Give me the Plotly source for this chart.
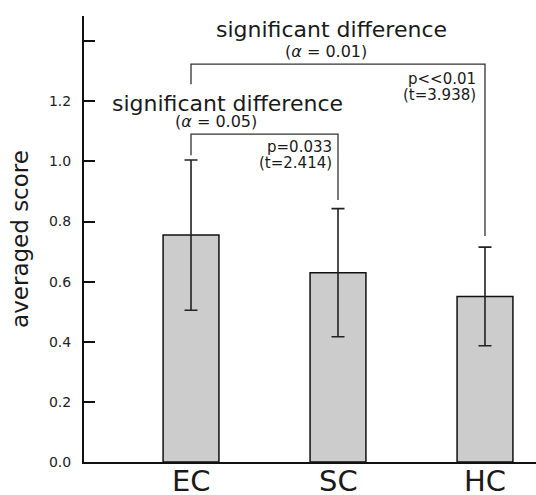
import plotly.graph_objects as go

categories = ["EC", "SC", "HC"]
means = [0.755, 0.630, 0.551]
errors = [0.250, 0.213, 0.164]
y_ticks = [0.0, 0.2, 0.4, 0.6, 0.8, 1.0, 1.2, 1.4]
y_tick_labels = ["0.0", "0.2", "0.4", "0.6", "0.8", "1.0", "1.2", ""]

# brackets: (left bar, right bar, top level, left leg bottom, right leg bottom)
brackets = [
    (0, 1, 1.091, 1.021, 0.872),
    (0, 2, 1.324, 1.257, 0.752),
]
bracket_titles = ["significant difference", "significant difference"]
bracket_alpha = ["(<i>α</i> = 0.05)", "(<i>α</i> = 0.01)"]
bracket_p = ["p=0.033", "p<<0.01"]
bracket_t = ["(t=2.414)", "(t=3.938)"]

# text placement relative to brackets (x in category units, shifts in px)
title_x = [0.248, 0.959]
title_shift = [31, 35]
alpha_x = [0.17, 0.918]
alpha_shift = [13, 13]
stat_xshift = [-4, -7]
p_shift = [-13, -15]
t_shift = [-29, -31]

FONT = "DejaVu Sans"
TXT = "#1a1a1a"
x = list(range(len(categories)))

fig = go.Figure()
fig.add_trace(go.Bar(
    x=x, y=means, width=0.38,
    marker=dict(color="#cccccc", line=dict(color="#111111", width=1.5)),
    error_y=dict(type="data", array=errors, visible=True, color="#222222",
                 thickness=1.6, width=6.5),
    showlegend=False,
))

shapes = []
annotations = []
for i, (a, b, top, lb, rb) in enumerate(brackets):
    shapes.append(dict(type="path", xref="x", yref="y",
                       path=f"M {a} {lb} L {a} {top} L {b} {top} L {b} {rb}",
                       line=dict(color="#333333", width=1.3)))
    annotations.append(dict(x=title_x[i], y=top, xref="x", yref="y", yshift=title_shift[i],
                            text=bracket_titles[i], showarrow=False, yanchor="middle",
                            font=dict(family=FONT, size=22, color=TXT)))
    annotations.append(dict(x=alpha_x[i], y=top, xref="x", yref="y", yshift=alpha_shift[i],
                            text=bracket_alpha[i], showarrow=False, yanchor="middle",
                            font=dict(family=FONT, size=16, color=TXT)))
    annotations.append(dict(x=b, y=top, xref="x", yref="y", xanchor="right", yanchor="middle",
                            xshift=stat_xshift[i], yshift=p_shift[i],
                            text=bracket_p[i], showarrow=False,
                            font=dict(family=FONT, size=15, color=TXT)))
    annotations.append(dict(x=b, y=top, xref="x", yref="y", xanchor="right", yanchor="middle",
                            xshift=stat_xshift[i], yshift=t_shift[i],
                            text=bracket_t[i], showarrow=False,
                            font=dict(family=FONT, size=15, color=TXT)))

for xi, cat in zip(x, categories):
    annotations.append(dict(x=xi, y=0, xref="x", yref="y", yanchor="top", yshift=0,
                            text=cat, showarrow=False,
                            font=dict(family=FONT, size=29, color=TXT)))

fig.update_layout(
    width=536, height=495,
    margin=dict(l=84, r=0, t=16, b=33),
    plot_bgcolor="white", paper_bgcolor="white",
    shapes=shapes, annotations=annotations,
    font=dict(family=FONT, color=TXT),
)
fig.update_xaxes(
    range=[-0.728, 2.347], tickvals=x, showticklabels=False,
    showline=True, linecolor="#111111", linewidth=2, ticks="",
    showgrid=False, zeroline=False, automargin=False,
)
fig.update_yaxes(
    range=[0, 1.484], tickvals=y_ticks, ticktext=y_tick_labels,
    showline=True, linecolor="#111111", linewidth=2,
    ticks="inside", ticklen=11, tickwidth=2, tickcolor="#111111",
    showgrid=False, zeroline=False, automargin=False,
    ticklabelstandoff=8,
    tickfont=dict(family=FONT, size=14, color="#222222"),
    title=dict(text="averaged score", font=dict(family=FONT, size=23, color=TXT), standoff=14),
)
fig.write_html(
    "out.html",
    config={"displayModeBar": False},
    post_script="document.body.style.margin='0px';document.body.style.overflow='hidden';",
)
